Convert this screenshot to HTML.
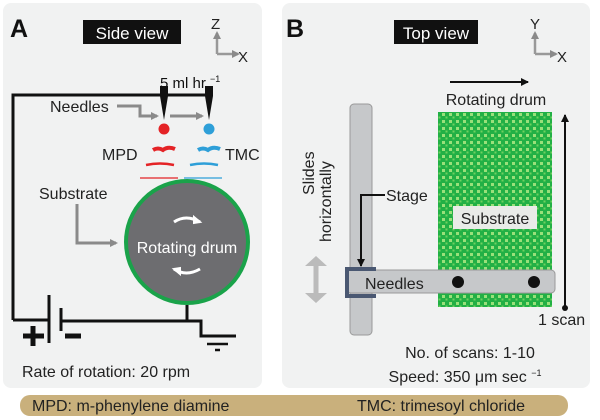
<!DOCTYPE html>
<html><head><meta charset="utf-8"><style>
body{margin:0;background:#fff;}
svg{display:block;font-family:"Liberation Sans",sans-serif;}
</style></head><body>
<svg width="600" height="420" viewBox="0 0 600 420" xmlns="http://www.w3.org/2000/svg">
<defs>
<pattern id="g" width="7" height="7" patternUnits="userSpaceOnUse">
<rect width="7" height="7" fill="#22b045"/>
<rect x="1" y="1" width="3" height="3" fill="#9ae07a"/>
<rect x="4.5" y="4.5" width="2" height="2" fill="#70d060"/>
</pattern>
<marker id="ag" markerWidth="8" markerHeight="8" refX="6" refY="4" orient="auto" markerUnits="userSpaceOnUse"><path d="M0,0 L8,4 L0,8z" fill="#8a8a8a"/></marker>
<marker id="ak" markerWidth="8" markerHeight="8" refX="7" refY="4" orient="auto" markerUnits="userSpaceOnUse"><path d="M0,0 L8,4 L0,8z" fill="#111"/></marker>
</defs>
<rect x="3" y="3" width="259" height="385" rx="8" fill="#f1f2f2"/>
<rect x="282" y="3" width="308" height="385" rx="8" fill="#f1f2f2"/>
<!-- Panel A -->
<text x="10" y="37" font-size="25" font-weight="bold" fill="#111" transform="scale(1,1)">A</text>
<rect x="83" y="20" width="98" height="24" fill="#111"/>
<text x="132" y="39" font-size="17" fill="#fff" text-anchor="middle">Side view</text>
<path d="M217,54 L217,33" stroke="#999" stroke-width="2.5" marker-end="url(#ag)"/>
<path d="M217,54 L238,54" stroke="#999" stroke-width="2.5" marker-end="url(#ag)"/>
<text x="211" y="29" font-size="15" fill="#222">Z</text>
<text x="238" y="62" font-size="15" fill="#222">X</text>
<text x="160" y="88" font-size="15" fill="#111">5 ml hr <tspan font-size="9" dy="-6">−1</tspan></text>
<path d="M13,320 L13,95 L208,95" fill="none" stroke="#111" stroke-width="3"/>
<path d="M160,86 h8 v10 l-4,24 l-4,-24z" fill="#111"/>
<path d="M205,86 h8 v10 l-4,24 l-4,-24z" fill="#111"/>
<text x="50" y="112" font-size="16" fill="#222">Needles</text>
<path d="M117,106 H140 V116 H157" fill="none" stroke="#8a8a8a" stroke-width="3" marker-end="url(#ag)"/>
<path d="M170,116 H202" fill="none" stroke="#8a8a8a" stroke-width="3" marker-end="url(#ag)"/>
<circle cx="164" cy="129" r="5.5" fill="#e42326"/>
<circle cx="209" cy="129" r="5.5" fill="#2e9fd8"/>
<text x="102" y="160" font-size="16" fill="#222">MPD</text>
<text x="225" y="160" font-size="16" fill="#222">TMC</text>
<g stroke="#e42326" fill="none">
<path d="M153,150 q5,-3 10,0 q5,-4 12,-1" stroke-width="4"/><path d="M146,165 q14,-3 28,0" stroke-width="2.5"/><path d="M140,178 h38" stroke-width="1.2"/></g>
<g stroke="#2e9fd8" fill="none">
<path d="M198,150 q5,-3 10,0 q5,-4 12,-1" stroke-width="4"/><path d="M190,165 q14,-3 28,0" stroke-width="2.5"/><path d="M184,178 h38" stroke-width="1.2"/></g>
<text x="39" y="199" font-size="16" fill="#222">Substrate</text>
<path d="M77,204 V243 H116" fill="none" stroke="#8a8a8a" stroke-width="3" marker-end="url(#ag)"/>
<circle cx="187" cy="242" r="61" fill="#6d6d70" stroke="#1aa34a" stroke-width="4"/>
<text x="187" y="253" font-size="16" fill="#fff" text-anchor="middle">Rotating drum</text>
<path d="M174,222 q12,-8 26,0" fill="none" stroke="#fff" stroke-width="3"/><path d="M200,222 l-6,-5 l0,6z" fill="#fff" stroke="#fff" stroke-width="2"/>
<path d="M174,269 q12,8 26,0" fill="none" stroke="#fff" stroke-width="3"/><path d="M174,269 l6,5 l0,-6z" fill="#fff" stroke="#fff" stroke-width="2"/>
<path d="M13,320 H48" stroke="#111" stroke-width="3"/>
<path d="M49,295 V343" stroke="#111" stroke-width="3"/>
<path d="M61,308 V331" stroke="#111" stroke-width="3"/>
<path d="M61,321 H201 V336 H236" fill="none" stroke="#111" stroke-width="3"/>
<path d="M187,305 V321" stroke="#111" stroke-width="3"/>
<path d="M207,344 H228" stroke="#111" stroke-width="2.5"/>
<path d="M215,350 H220" stroke="#111" stroke-width="2.5"/>
<path d="M23,336 H44 M33,326 V346" stroke="#111" stroke-width="5"/>
<path d="M65,336 H81" stroke="#111" stroke-width="5"/>
<text x="22" y="377" font-size="16" fill="#222">Rate of rotation: 20 rpm</text>
<!-- Panel B -->
<text x="286" y="37" font-size="25" font-weight="bold" fill="#111">B</text>
<rect x="394" y="20" width="84" height="24" fill="#111"/>
<text x="436" y="39" font-size="17" fill="#fff" text-anchor="middle">Top view</text>
<path d="M535,54 L535,33" stroke="#999" stroke-width="2.5" marker-end="url(#ag)"/>
<path d="M535,54 L556,54" stroke="#999" stroke-width="2.5" marker-end="url(#ag)"/>
<text x="530" y="29" font-size="15" fill="#222">Y</text>
<text x="557" y="62" font-size="15" fill="#222">X</text>
<path d="M450,82 H528" stroke="#111" stroke-width="2" marker-end="url(#ak)"/>
<text x="496" y="105" font-size="16" fill="#222" text-anchor="middle">Rotating drum</text>
<rect x="438" y="112" width="114" height="195" fill="url(#g)"/>
<rect x="453" y="206" width="84" height="23" fill="#e9ebe8"/>
<text x="495" y="224" font-size="16" fill="#222" text-anchor="middle">Substrate</text>
<path d="M565,308 V115" stroke="#111" stroke-width="2" marker-end="url(#ak)"/>
<circle cx="565" cy="308" r="3" fill="#111"/>
<text x="538" y="325" font-size="16" fill="#222">1 scan</text>
<rect x="350" y="104" width="22" height="231" rx="4" fill="#c6c8ca" stroke="#999" stroke-width="1"/>
<text transform="translate(314,195) rotate(-90)" font-size="16" fill="#222">Slides</text>
<text transform="translate(331,242) rotate(-90)" font-size="16" fill="#222">horizontally</text>
<text x="386" y="201" font-size="16" fill="#222">Stage</text>
<path d="M385,195 H361 V266" fill="none" stroke="#111" stroke-width="2" marker-end="url(#ak)"/>
<rect x="347" y="270" width="208" height="23" rx="4" fill="#c6c8ca" stroke="#999" stroke-width="1"/>
<path d="M376,269 H347 V296 H376" fill="none" stroke="#4a5872" stroke-width="4"/>
<text x="365" y="289" font-size="16" fill="#222">Needles</text>
<circle cx="458" cy="282" r="6" fill="#111"/>
<circle cx="534" cy="282" r="6" fill="#111"/>
<path d="M316,262 V297" stroke="#bbb" stroke-width="5"/>
<path d="M305,266 L316,256 L327,266z M305,293 L316,303 L327,293z" fill="#bbb"/>
<text x="470" y="358" font-size="16" fill="#222" text-anchor="middle">No. of scans: 1-10</text>
<text x="465" y="382" font-size="16" fill="#222" text-anchor="middle">Speed: 350 μm sec <tspan font-size="9" dy="-6">−1</tspan></text>
<!-- bottom bar -->
<rect x="20" y="395" width="548" height="21" rx="10" fill="#c9b07c"/>
<text x="32" y="411" font-size="16" fill="#222">MPD: m-phenylene diamine</text>
<text x="357" y="411" font-size="16" fill="#222">TMC: trimesoyl chloride</text>
</svg>
</body></html>
